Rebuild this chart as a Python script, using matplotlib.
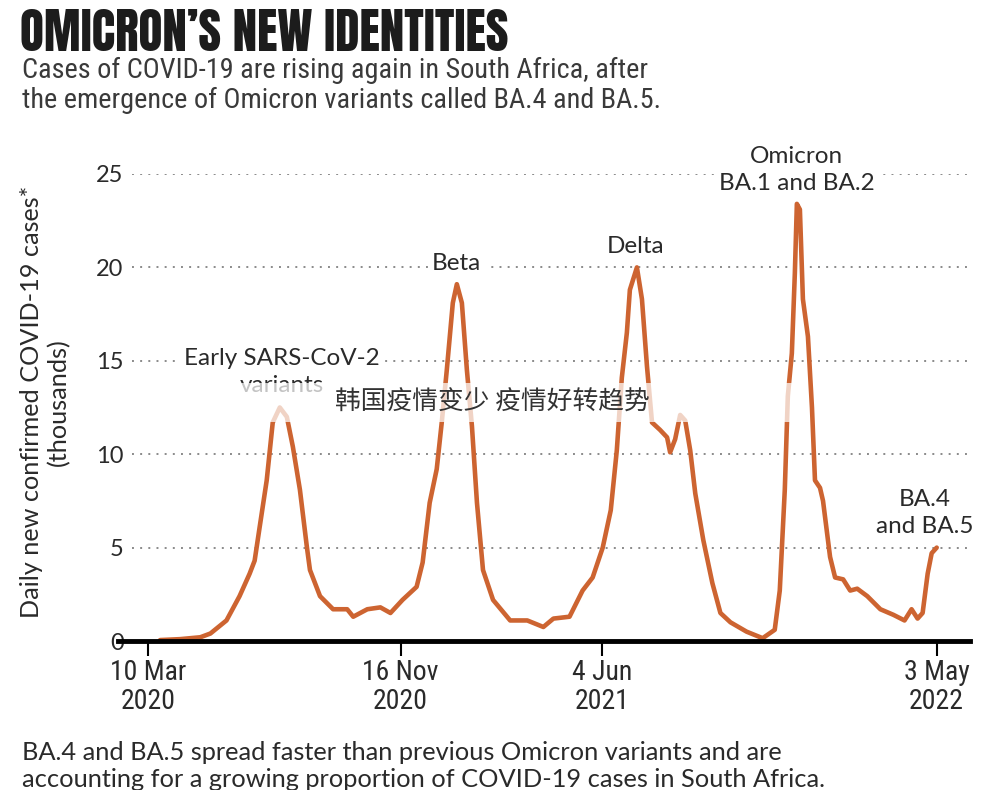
import numpy as np
import pandas as pd
import matplotlib
matplotlib.use("Agg")
import matplotlib.pyplot as plt
import matplotlib.dates as mdates
from matplotlib.patches import Rectangle

# ---------------- data ----------------
start_date = "2020-03-10"
days_since_start = [12, 32, 52, 62, 78, 91, 101, 106, 111, 118, 124, 131, 138, 144, 151, 158, 161, 171,
                    184, 198, 204, 218, 231, 241, 253, 267, 273, 280, 287, 292, 297, 303, 307, 312, 317,
                    322, 327, 333, 343, 360, 377, 393, 403, 419, 432, 442, 452, 460, 466, 471, 476, 479,
                    486, 491, 496, 501, 509, 516, 519, 524, 529, 534, 539, 544, 552, 561, 569, 579, 595,
                    611, 623, 628, 633, 636, 640, 643, 645, 648, 651, 656, 660, 663, 668, 671, 678, 683,
                    691, 698, 705, 715, 728, 741, 752, 759, 765, 770, 775, 779, 784]
cases_thousands = [0.05, 0.1, 0.2, 0.4, 1.1, 2.4, 3.6, 4.3, 6.1, 8.6, 11.7, 12.5, 12.0, 10.4, 8.1, 5.0, 3.8, 2.4,
                   1.7, 1.7, 1.3, 1.7, 1.8, 1.5, 2.2, 2.9, 4.2, 7.4, 9.2, 11.7, 14.5, 18.1, 19.1, 18.1, 14.5,
                   11.5, 7.4, 3.8, 2.2, 1.1, 1.1, 0.75, 1.2, 1.3, 2.7, 3.4, 5.0, 7.0, 10.2, 14.1, 16.5, 18.8,
                   20.0, 18.3, 14.7, 11.7, 11.3, 10.9, 10.1, 10.8, 12.1, 11.8, 10.2, 7.9, 5.4, 3.1, 1.5, 1.0, 0.5,
                   0.15, 0.6, 2.7, 8.1, 13.1, 15.4, 19.7, 23.4, 23.1, 18.3, 16.3, 12.5, 8.6, 8.2, 7.5, 4.5, 3.4,
                   3.3, 2.7, 2.8, 2.4, 1.7, 1.4, 1.1, 1.7, 1.2, 1.5, 3.6, 4.7, 5.0]

tick_dates = ["2020-03-10", "2020-11-16", "2021-06-04", "2022-05-03"]
tick_labels = ["10 Mar\n2020", "16 Nov\n2020", "4 Jun\n2021", "3 May\n2022"]
y_ticks = [0, 5, 10, 15, 20, 25]

annotations = [
    ("Early SARS-CoV-2\nvariants", "2020-07-21", 14.4),
    ("Beta", "2021-01-11", 20.2),
    ("Delta", "2021-07-08", 21.1),
    ("Omicron\nBA.1 and BA.2", "2021-12-15", 25.2),
    ("BA.4\nand BA.5", "2022-04-21", 6.85),
]

title = "OMICRON\u2019S NEW IDENTITIES"
subtitle = "Cases of COVID-19 are rising again in South Africa, after\nthe emergence of Omicron variants called BA.4 and BA.5."
footer = "BA.4 and BA.5 spread faster than previous Omicron variants and are\naccounting for a growing proportion of COVID-19 cases in South Africa."
ylabel = "Daily new confirmed COVID-19 cases*\n(thousands)"
watermark = "韩国疫情变少 疫情好转趋势"

# ---------------- style ----------------
LINE = "#cd6431"
TXT = "#2a2a2a"
NARROW = ["Roboto Condensed", "Roboto", "DejaVu Sans"]
BODY = ["Lato", "DejaVu Sans"]
TITLE_FONT = ["Anton", "Roboto Condensed", "DejaVu Sans"]

W, H = 984, 790
fig = plt.figure(figsize=(W / 100, H / 100), dpi=100)
fig.patch.set_facecolor("white")

def fx(px):
    return px / W

def fy(py):
    return 1 - py / H

ax_left, ax_right, ax_top, ax_bot = 132, 970, 174, 641
ax = fig.add_axes([fx(ax_left), fy(ax_bot), fx(ax_right - ax_left), fy(ax_top) - fy(ax_bot)])

base = pd.Timestamp(start_date)
dates = base + pd.to_timedelta(days_since_start, unit="D")
px_per_day = 1.006
x0 = mdates.date2num(base - pd.Timedelta(days=(148 - ax_left) / px_per_day))
x1 = mdates.date2num(base + pd.Timedelta(days=(ax_right - 148) / px_per_day))
ax.set_xlim(x0, x1)
ax.set_ylim(0, 25)

for yv in y_ticks[1:]:
    ax.axhline(yv, color="#8a8a8a", lw=1.4, ls=(0, (1, 3.2)), zorder=1)

ax.plot(dates, cases_thousands, color=LINE, lw=3.3, solid_joinstyle="round",
        solid_capstyle="round", zorder=3)

ax.axhline(0, xmin=-(ax_left - 118) / (ax_right - ax_left), xmax=1.0, color="black",
           lw=3.5, clip_on=False, zorder=4)

for s in ax.spines.values():
    s.set_visible(False)

ax.set_yticks(y_ticks)
ax.set_yticklabels([str(v) for v in y_ticks])
ax.tick_params(axis="y", length=0, pad=6, labelsize=17, labelcolor=TXT)
for lab in ax.get_yticklabels():
    lab.set_family(BODY)

ax.set_xticks(mdates.date2num(pd.to_datetime(tick_dates)))
ax.set_xticklabels(tick_labels)
ax.tick_params(axis="x", length=11, width=1.5, color="black", pad=2, labelsize=20,
               labelcolor=TXT)
for lab in ax.get_xticklabels():
    lab.set_family(NARROW)
    lab.set_linespacing(1.08)

fig.text(fx(45), fy(402), ylabel, rotation=90, fontsize=18.2, color=TXT, family=BODY,
         ha="center", va="center", linespacing=1.2, multialignment="center")

for text, d, yv in annotations:
    ax.text(mdates.date2num(pd.Timestamp(d)), yv, text, ha="center", va="center",
            fontsize=17.5, color=TXT, family=BODY, linespacing=1.33, zorder=5,
            bbox=dict(fc="white", ec="none", pad=3))

fig.text(fx(20), fy(9), title, fontsize=35.5, family=TITLE_FONT,
         color="#1c1c1c", va="top", ha="left")
fig.text(fx(22), fy(57), subtitle, fontsize=20.3, family=NARROW, color="#3a3a3a",
         va="top", ha="left", linespacing=1.12)
fig.text(fx(22), fy(741), footer, fontsize=18.3, family=BODY, color=TXT,
         va="top", ha="left", linespacing=1.2)

band = Rectangle((fx(232), fy(422)), fx(800 - 232), fy(383) - fy(422), transform=fig.transFigure,
                 facecolor="white", alpha=0.72, edgecolor="none", zorder=10)
fig.patches.append(band)
fig.text(fx(492), fy(403), watermark, fontsize=18.5, fontweight="light",
         family=["Noto Sans CJK SC", "DejaVu Sans"],
         color="#333333", ha="center", va="center", zorder=11)

fig.savefig("out.png", dpi=100, facecolor="white")
